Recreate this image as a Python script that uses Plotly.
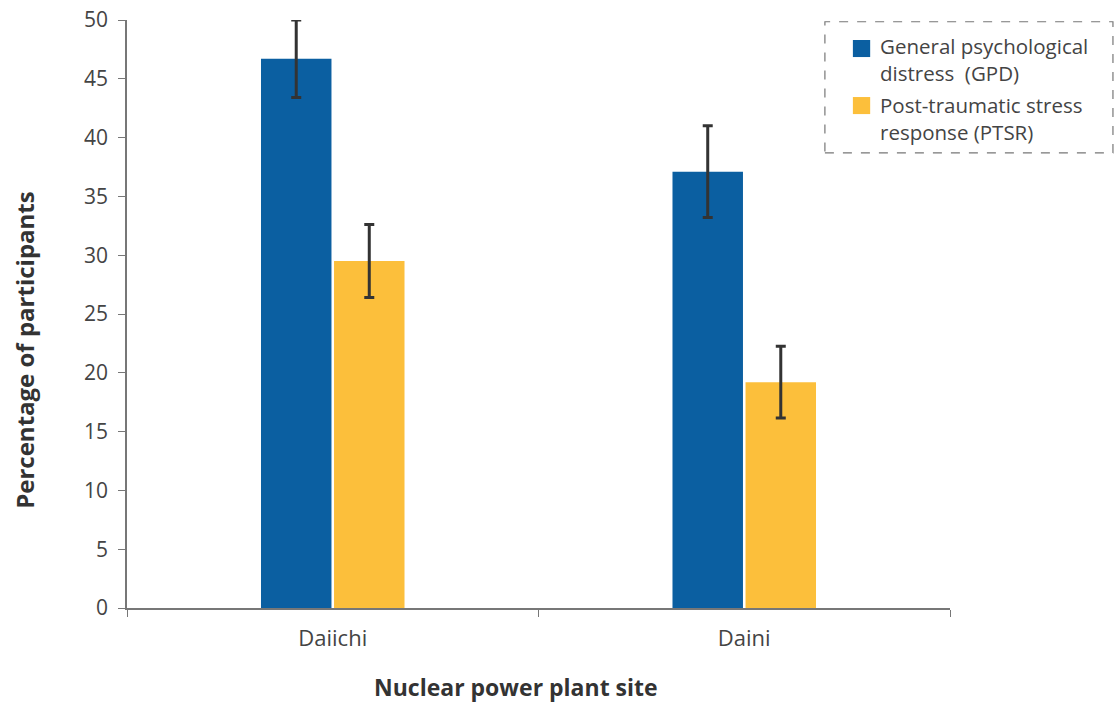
import plotly.graph_objects as go

# data
sites = ["Daiichi", "Daini"]
gpd_values = [46.7, 37.1]
gpd_errors = [3.3, 3.9]
ptsr_values = [29.5, 19.2]
ptsr_errors = [3.1, 3.05]

series_names = ["General psychological<br>distress  (GPD)",
                "Post-traumatic stress<br>response (PTSR)"]
y_ticks = [0, 5, 10, 15, 20, 25, 30, 35, 40, 45, 50]

BLUE = "#0b5fa1"
YELLOW = "#fcbf3b"
ERR = "#333333"
TXT = "#444444"

fig = go.Figure()
fig.add_trace(go.Bar(
    x=sites, y=gpd_values, name=series_names[0],
    marker=dict(color=BLUE, line=dict(width=0)),
    error_y=dict(type="data", array=gpd_errors, color=ERR, thickness=3, width=5),
))
fig.add_trace(go.Bar(
    x=sites, y=ptsr_values, name=series_names[1],
    marker=dict(color=YELLOW, line=dict(width=0)),
    error_y=dict(type="data", array=ptsr_errors, color=ERR, thickness=3, width=5),
))

# legend drawn by hand: dashed box, bigger swatches
fig.add_shape(type="rect", xref="paper", yref="paper",
              x0=0.848, x1=1.198, y0=0.774, y1=0.997,
              line=dict(color="#777777", width=1.2, dash="dash"))
legend_rows = [(0.966, 0.937, 0.932, BLUE), (0.869, 0.840, 0.833, YELLOW)]
for (top, bot, ymid, col), name in zip(legend_rows, series_names):
    fig.add_shape(type="rect", xref="paper", yref="paper",
                  x0=0.882, x1=0.903, y0=bot, y1=top,
                  line=dict(width=0), fillcolor=col)
    fig.add_annotation(xref="paper", yref="paper", x=0.913, y=ymid,
                       xanchor="left", yanchor="middle", align="left",
                       text=name, showarrow=False,
                       font=dict(size=20.5, color=TXT))

# axis titles as annotations so they sit where the original has them
fig.add_annotation(xref="paper", yref="paper", x=0.4727, y=-0.1344,
                   xanchor="center", yanchor="middle", showarrow=False,
                   borderpad=0, text="<b>Nuclear power plant site</b>",
                   font=dict(size=23, color="#333333"))
fig.add_annotation(xref="paper", yref="paper", x=-0.124, y=0.439,
                   xanchor="center", yanchor="middle", showarrow=False,
                   borderpad=0, textangle=-90,
                   text="<b>Percentage of participants</b>",
                   font=dict(size=24, color="#333333"))

fig.update_layout(
    width=1116, height=702,
    paper_bgcolor="white", plot_bgcolor="white",
    margin=dict(l=127, r=166, t=20, b=94),
    barmode="group", bargap=0.645, bargroupgap=0.035,
    showlegend=False,
    font=dict(family="Open Sans", color=TXT, size=16),
    xaxis=dict(
        showline=True, linecolor="#777777", linewidth=1.5,
        ticks="outside", tickson="boundaries", ticklen=7, tickcolor="#777777",
        ticklabelstandoff=10, automargin=False,
        showgrid=False, tickfont=dict(size=22, color=TXT),
    ),
    yaxis=dict(
        range=[0, 50], tickvals=y_ticks,
        showline=True, linecolor="#777777", linewidth=1.5,
        ticks="outside", ticklen=7, tickcolor="#777777",
        ticklabelstandoff=6, ticklabeloverflow="allow", automargin=False,
        showgrid=False, zeroline=False, tickfont=dict(size=21, color=TXT),
    ),
)

# drop the page's default 8px body margin so the figure sits at 0,0
fig.write_html("out.html", config={"displayModeBar": False},
               post_script="document.body.style.margin='0px';")
